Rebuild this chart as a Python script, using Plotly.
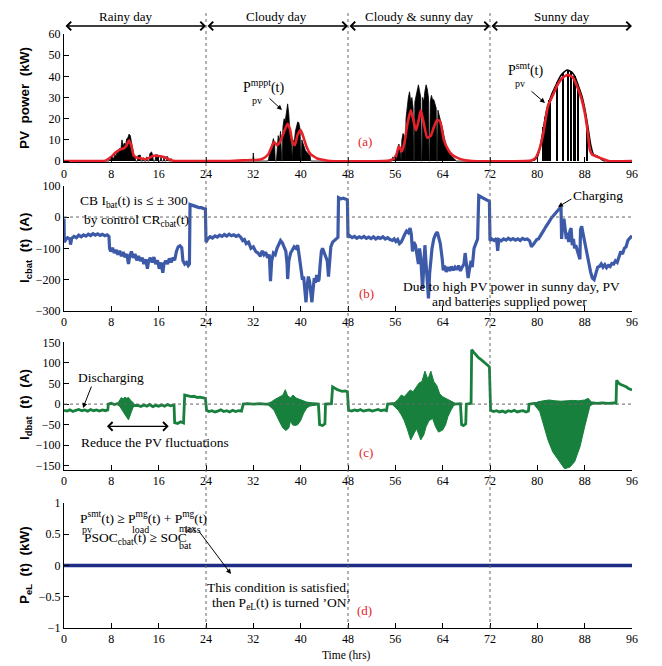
import plotly.graph_objects as go

# ---------------- data ----------------
HOUR_TICKS = list(range(0, 97, 8))
DAY_LABELS = ["Rainy day", "Cloudy day", "Cloudy &amp; sunny day", "Sunny day"]
DAY_BOUNDS = [0, 24, 48, 72, 96]

# (a) smoothed PV power (kW)
PV_SMT = [(0, 0), (6, 0), (7, 0.2), (8, 2), (8.7, 4), (9.5, 5.5), (10.1, 6), (10.6, 7.5), (11, 9.8),
          (11.4, 7), (11.8, 2.5), (12.4, 1.5), (12.9, 1.3), (13.7, 0.8), (14.4, 1.5), (15.1, 2.5),
          (15.8, 2.4), (16.3, 2.3), (17, 1.8), (17.4, 1.2), (18, 0.5), (18.8, 0), (20, 0), (28, 0),
          (31, 0.4), (32, 0.5), (33.2, 0.7), (34, 1.8), (34.6, 3.5), (35.5, 9), (36, 7.5), (36.5, 9),
          (37.2, 14), (37.8, 17.6), (38.2, 15), (38.6, 9), (39, 7.5), (39.5, 12.5), (40, 14.6), (40.5, 11),
          (41, 6.7), (41.6, 3.5), (42.8, 1.2), (43.9, 0.5), (45, 0), (54, 0),
          (55, 0.3), (56, 1.5), (56.6, 7), (57.1, 4.5), (57.6, 9.5), (58, 17), (58.6, 24), (59, 20),
          (59.5, 14.5), (60, 20), (60.3, 24), (60.8, 18), (61.4, 11), (62, 12), (62.5, 16), (63.1, 19.5),
          (63.6, 18.5), (64.2, 10), (65, 5), (65.6, 3), (66.5, 1.5), (67.6, 0.5), (69, 0), (78, 0),
          (79, 0.3), (79.7, 1.5), (80.4, 6), (81, 13), (81.8, 26), (82.6, 31), (83.5, 36.5), (84.3, 39.5),
          (85.2, 40.7), (86, 39.5), (86.9, 34), (87.5, 29), (88, 23), (88.5, 14), (88.9, 5), (89.3, 3),
          (89.7, 2.5), (90.6, 1.5), (91.3, 0.7), (92, 0), (96, 0)]

# (a) MPPT PV power, rainy / cloudy / cloudy & sunny days (kW)
PV_MPPT = [(0, 0), (7.6, 0), (7.8, 1), (8.0, 0.5), (8.2, 2), (8.4, 1), (8.6, 3), (8.8, 2.5), (9.0, 4.5),
           (9.2, 3.5), (9.4, 6), (9.6, 5), (9.8, 10), (10.0, 7), (10.2, 8.5), (10.4, 7.5), (10.6, 10.5),
           (10.8, 11), (11.0, 12.7), (11.2, 12), (11.4, 9), (11.6, 6), (11.8, 2.8), (12.0, 2.5), (12.1, 0),
           (12.4, 0), (12.5, 2.6), (12.9, 2.8), (13.0, 0), (13.3, 0), (13.35, 1.5), (13.5, 1.2), (13.55, 0),
           (13.9, 0), (14.0, 2), (14.1, 0), (14.4, 0), (14.5, 3.5), (14.8, 4.3), (15.0, 2.6), (15.1, 0),
           (15.4, 0), (15.5, 3), (15.9, 2.8), (16.0, 0), (16.3, 0), (16.4, 2.5), (16.5, 0), (16.8, 0),
           (16.9, 2), (17.0, 0), (17.3, 0), (17.4, 2.3), (17.6, 1.5), (17.7, 0), (18.0, 0), (18.1, 1.2),
           (18.3, 0),
           (31.9, 0), (32.0, 3.8), (32.1, 0), (34.5, 0), (34.6, 2), (34.8, 4), (35.0, 6), (35.2, 9),
           (35.4, 10.6), (35.6, 8), (35.7, 0), (35.9, 0), (36.0, 6), (36.2, 12), (36.4, 9), (36.6, 14),
           (36.8, 0), (36.9, 0), (37.0, 16), (37.2, 20), (37.4, 19), (37.6, 24), (37.8, 27), (38.0, 22),
           (38.2, 12), (38.4, 9), (38.5, 0), (38.6, 0), (38.7, 10), (38.9, 8), (39.1, 14), (39.3, 17),
           (39.5, 18.5), (39.7, 18), (39.9, 15), (40.0, 0), (40.1, 0), (40.2, 10), (40.4, 8), (40.6, 6),
           (40.8, 5), (41.0, 4.3), (41.2, 3.5), (41.4, 3), (41.6, 2.5), (41.7, 0),
           (55.4, 0), (55.6, 2), (55.8, 1), (56.0, 3), (56.2, 2), (56.4, 6), (56.6, 8), (56.8, 5), (56.9, 0),
           (57.0, 0), (57.1, 10), (57.3, 13), (57.5, 12), (57.6, 0), (57.7, 0), (57.8, 20), (58.0, 26),
           (58.2, 30), (58.4, 32.7), (58.6, 28), (58.8, 30), (59.0, 25), (59.1, 0), (59.2, 0), (59.3, 28),
           (59.5, 31), (59.7, 33), (59.9, 36), (60.1, 33), (60.3, 30), (60.4, 0), (60.5, 0), (60.6, 30),
           (60.8, 28), (61.0, 33), (61.2, 36), (61.4, 34), (61.6, 30), (61.7, 0), (61.8, 0), (61.9, 28),
           (62.1, 31), (62.3, 29), (62.5, 29), (62.7, 27), (62.9, 25), (63.0, 0), (63.1, 0), (63.2, 24),
           (63.4, 22), (63.6, 20), (63.8, 17), (64.0, 15), (64.2, 12), (64.4, 9), (64.6, 7), (64.8, 6),
           (65.0, 5), (65.3, 3), (65.6, 2), (66.0, 1), (66.3, 0), (78, 0)]

# (a) MPPT PV power, sunny day outline and its drop-outs (kW)
PV_MPPT_SUNNY = [(78.5, 0), (79.5, 0.5), (80.0, 2), (80.5, 7), (81.0, 15), (81.5, 23), (82.0, 28),
                 (82.5, 32), (83.0, 35), (83.5, 38), (84.0, 40.5), (84.5, 42), (85.0, 43), (85.5, 42.5),
                 (86.0, 41.5), (86.5, 39), (87.0, 35), (87.5, 31), (88.0, 25), (88.5, 17), (89.0, 8),
                 (89.5, 3), (90.0, 2.5), (90.5, 1.5), (91.0, 0.5), (91.5, 0)]
PV_MPPT_SUNNY_DROPS = [(81.1, 16), (81.4, 21), (81.7, 25), (82.1, 29), (83.4, 37.5), (84.4, 41.5),
                       (85.2, 43), (85.7, 42.5), (86.3, 40), (86.9, 36), (88.4, 18)]

# (b) charging battery current (A)
I_CBAT = [(0, -5), (0.05, -80), (0.3, -72), (0.6, -66), (1.0, -70), (1.1, -88), (1.3, -68), (1.7, -62),
          (2.1, -66), (2.5, -58), (2.9, -63), (3.3, -57), (3.7, -61), (4.1, -55), (4.5, -59), (4.9, -53),
          (5.3, -58), (5.7, -54), (6.1, -59), (6.5, -55), (6.9, -60), (7.3, -57), (7.6, -62), (7.7, -100),
          (7.9, -110), (8.2, -98), (8.5, -115), (8.8, -105), (9.1, -120), (9.4, -108), (9.7, -125),
          (10.0, -112), (10.3, -128), (10.6, -118), (10.9, -150), (11.1, -125), (11.4, -110), (11.7, -130),
          (12.0, -118), (12.3, -138), (12.6, -125), (12.9, -140), (13.2, -130), (13.5, -150), (13.8, -135),
          (14.1, -165), (14.3, -140), (14.6, -130), (14.9, -145), (15.2, -128), (15.5, -150), (15.8, -138),
          (16.1, -165), (16.4, -145), (16.7, -178), (16.9, -150), (17.2, -140), (17.5, -150), (17.8, -132),
          (18.1, -145), (18.4, -130), (18.7, -138), (19.0, -110), (19.3, -95), (19.6, -92), (19.9, -98),
          (20.1, -140), (20.4, -150), (20.7, -145), (21.0, -155), (21.2, -150), (21.3, 40), (21.6, 38),
          (22.0, 35), (22.4, 33), (22.8, 30), (23.2, 30), (23.6, 27), (23.9, 25), (24.0, -80), (24.3, -70),
          (24.7, -63), (25.1, -67), (25.5, -60), (25.9, -64), (26.3, -58), (26.7, -62), (27.1, -56),
          (27.5, -61), (27.9, -55), (28.3, -60), (28.7, -57), (29.1, -62), (29.5, -58), (29.9, -65),
          (30.2, -75), (30.5, -72), (30.8, -85), (31.2, -80), (31.6, -100), (32.0, -95), (32.4, -110),
          (32.8, -115), (33.2, -125), (33.5, -108), (33.8, -120), (34.1, -112), (34.4, -130), (34.7, -120),
          (34.9, -205), (35.1, -140), (35.4, -115), (35.7, -120), (36.0, -100), (36.3, -90), (36.6, -75),
          (36.9, -82), (37.2, -95), (37.5, -110), (37.7, -150), (37.8, -198), (38.0, -140), (38.3, -115),
          (38.6, -105), (38.9, -95), (39.2, -100), (39.5, -90), (39.8, -130), (40.0, -165), (40.3, -200),
          (40.5, -190), (40.7, -230), (40.9, -272), (41.1, -220), (41.3, -190), (41.5, -205), (41.7, -240),
          (41.9, -272), (42.1, -230), (42.3, -195), (42.5, -210), (42.7, -185), (42.9, -205), (43.1, -200),
          (43.3, -150), (43.5, -110), (43.7, -100), (43.9, -110), (44.2, -125), (44.5, -140), (44.7, -190),
          (44.9, -140), (45.1, -95), (45.4, -80), (45.7, -75), (46.0, -68), (46.3, -65), (46.4, 62),
          (46.8, 58), (47.2, 60), (47.6, 56), (47.9, 55), (48.0, -65), (48.3, -60), (48.7, -66), (49.1, -62),
          (49.5, -68), (49.9, -63), (50.3, -67), (50.7, -62), (51.1, -68), (51.5, -64), (51.9, -69),
          (52.3, -63), (52.7, -70), (53.1, -65), (53.5, -68), (53.9, -63), (54.3, -70), (54.7, -66),
          (55.1, -72), (55.5, -75), (55.8, -70), (56.1, -78), (56.4, -72), (56.7, -85), (57.0, -80),
          (57.3, -65), (57.6, -55), (57.9, -45), (58.2, -50), (58.5, -35), (58.7, -55), (58.9, -110),
          (59.1, -80), (59.4, -90), (59.7, -120), (59.9, -150), (60.1, -100), (60.3, -130), (60.6, -230),
          (60.8, -160), (61.0, -90), (61.2, -150), (61.4, -200), (61.6, -260), (61.8, -180), (62.0, -130),
          (62.2, -100), (62.5, -70), (62.8, -55), (63.1, -48), (63.3, -60), (63.6, -85), (63.9, -130),
          (64.1, -170), (64.3, -155), (64.6, -175), (64.9, -160), (65.2, -172), (65.5, -158), (65.8, -170),
          (66.1, -160), (66.4, -168), (66.7, -155), (67.0, -172), (67.3, -160), (67.6, -150), (67.8, -115),
          (68.0, -150), (68.3, -195), (68.5, -170), (68.8, -140), (69.0, -160), (69.3, -100), (69.6, -85),
          (69.9, -70), (70.1, 68), (70.4, 65), (70.8, 62), (71.2, 58), (71.6, 55), (71.9, 50), (72.0, -75),
          (72.3, -70), (72.7, -75), (73.1, -68), (73.3, -108), (73.5, -72), (73.9, -76), (74.3, -70),
          (74.7, -74), (75.1, -68), (75.5, -73), (75.9, -69), (76.3, -74), (76.7, -70), (77.1, -75),
          (77.5, -68), (77.9, -72), (78.3, -70), (78.7, -76), (79.0, -95), (79.3, -88), (79.6, -80),
          (79.9, -72), (80.2, -70), (80.5, -62), (80.8, -50), (81.1, -42), (81.4, -32), (81.7, -25),
          (82.0, -15), (82.3, -5), (82.6, 2), (82.9, 10), (83.2, 18), (83.5, 25), (83.8, 30), (84.0, 33),
          (84.1, -70), (84.3, -20), (84.5, -5), (84.7, -40), (84.9, -70), (85.1, -50), (85.3, -80),
          (85.5, -45), (85.7, -35), (85.9, -90), (86.1, -70), (86.3, -100), (86.5, -90), (86.8, -110),
          (87.0, -120), (87.2, -135), (87.3, -40), (87.5, -30), (87.7, -50), (87.9, -70), (88.1, -85),
          (88.4, -110), (88.7, -140), (89.0, -175), (89.3, -195), (89.6, -200), (89.9, -180), (90.2, -160),
          (90.5, -158), (90.8, -150), (91.1, -160), (91.4, -152), (91.7, -162), (92.0, -155), (92.3, -158),
          (92.6, -148), (92.9, -150), (93.2, -140), (93.5, -145), (93.8, -125), (94.1, -110), (94.4, -118),
          (94.7, -100), (95.0, -95), (95.3, -75), (95.6, -68), (96.0, -60)]

# (c) discharging battery current (A)
I_DBAT = [(0, -15), (0.5, -17), (1, -14), (1.5, -18), (2, -15), (2.5, -13), (3, -16), (3.5, -14), (4, -17),
          (4.5, -13), (5, -16), (5.5, -14), (6, -17), (6.5, -14), (7, -16), (7.4, -14),
          (7.5, 0), (8, 2), (8.5, -1), (9, 1), (9.5, -2), (10, 0), (10.5, -3), (11, -2), (11.5, -4),
          (12, -4), (12.5, -3), (13, -6), (13.5, -2), (14, -5), (14.5, -1), (15, -6), (15.5, -3), (16, -5),
          (16.5, -2), (17, -5), (17.5, -1), (18, -4), (18.6, -2),
          (18.7, -45), (19.2, -47), (19.7, -43), (20.2, -46),
          (20.4, 22), (21, 20), (21.5, 18), (22, 19), (22.5, 16), (23, 17), (23.5, 15), (23.9, 14),
          (24.1, -15), (24.5, -18), (25, -16), (25.5, -19), (26, -17), (26.5, -14), (27, -18), (27.5, -16),
          (28, -19), (28.5, -15), (29, -18), (29.5, -16), (30, -17),
          (30.3, 0), (31, 1), (32, 0), (33, 1), (34, 0), (43, 0),
          (43.2, -50), (43.7, -52), (44.1, -48),
          (44.2, 0), (45.2, 1),
          (45.4, 42), (45.8, 38), (46.2, 35), (46.6, 33), (47, 31), (47.5, 32), (47.9, 30),
          (48.1, -15), (48.6, -17), (49.1, -14), (49.6, -16), (50.1, -13), (50.6, -17), (51.1, -15),
          (51.6, -14), (52.1, -17), (52.6, -15), (53.1, -13), (53.6, -16), (54.1, -14), (54.5, -16),
          (54.7, 0), (55.5, 1), (56, 0), (66, 0), (67, 1),
          (67.2, -50), (67.5, -52), (67.9, -48),
          (68, 0), (68.8, 2),
          (68.9, 132), (69.3, 125), (69.7, 118), (70.1, 112), (70.5, 108), (70.9, 102), (71.3, 98),
          (71.7, 93), (71.9, 90),
          (72.1, -15), (72.6, -18), (73.1, -16), (73.6, -19), (74.1, -17), (74.6, -20), (75.1, -16),
          (75.6, -18), (76.1, -15), (76.6, -19), (77.1, -17), (77.6, -16), (78.1, -19), (78.5, -17),
          (78.6, 0), (79.5, 2), (89.5, 3), (90, 2), (91, 3), (92, 2), (93, 3), (93.3, 2),
          (93.4, 58), (93.8, 50), (94.2, 47), (94.6, 45), (95, 42), (95.4, 38), (95.8, 36), (96, 34)]

# (c) envelopes of the fast current fluctuations (A)
DBAT_UP_1 = [(9, 0), (9.4, 10), (9.7, 16), (10.0, 12), (10.3, 17), (10.6, 14), (10.9, 16), (11.2, 10),
             (11.5, 6), (11.8, 2)]
DBAT_LO_1 = [(9, 0), (9.4, -5), (9.7, -12), (10.0, -18), (10.3, -25), (10.6, -32), (10.9, -38),
             (11.2, -30), (11.5, -15), (11.8, -3)]
DBAT_UP_2 = [(34.5, 2), (35, 5), (35.5, 10), (36, 14), (36.5, 18), (37, 22), (37.4, 35), (37.8, 20),
             (38.3, 15), (38.7, 22), (39.2, 15), (39.7, 12), (40.2, 8), (41, 5), (42, 3), (43, 2)]
DBAT_LO_2 = [(34.5, -2), (35, -8), (35.5, -15), (36, -30), (36.5, -45), (37, -58), (37.5, -64), (38, -58),
             (38.3, -40), (38.6, -50), (39, -52), (39.5, -50), (40, -40), (40.5, -22), (41, -10),
             (41.5, -5), (42, -3), (43, -1)]
DBAT_UP_3 = [(55.5, 1), (56, 5), (56.5, 12), (57, 22), (57.5, 18), (58, 26), (58.5, 34), (59, 30),
             (59.5, 42), (60, 51), (60.5, 55), (61, 80), (61.5, 60), (62, 80), (62.5, 55), (63, 45),
             (63.5, 25), (64, 18), (64.5, 14), (65, 10), (65.5, 6), (66, 3)]
DBAT_LO_3 = [(55.5, -1), (56, -8), (56.5, -15), (57, -26), (57.5, -40), (58, -60), (58.6, -87),
             (59.2, -70), (59.6, -60), (60.3, -87), (60.8, -75), (61.2, -55), (61.7, -40), (62.3, -35),
             (62.8, -55), (63.3, -68), (64, -63), (64.5, -50), (64.9, -30), (65.4, -15), (65.8, -5), (66, -2)]
DBAT_UP_4 = [(79.5, 1), (80, 5), (81, 8), (82, 10), (83, 8), (84, 7), (85, 8), (86, 9), (87, 8),
             (88, 10), (88.6, 14), (89, 8), (89.3, 2)]
DBAT_LO_4 = [(79.5, -2), (80.4, -18), (81, -47), (81.8, -87), (82.6, -116), (83.8, -140), (84.6, -157),
             (85.5, -153), (86.3, -140), (87.2, -104), (88, -55), (88.9, -4), (89.3, -1)]
DBAT_GAPS = [(84.4, -150), (85.2, -152), (85.9, -145)]

# (d) dump load power (kW)
P_EL = [(0, 0), (96, 0)]

# ---------------- styling ----------------
SERIF = "Liberation Serif"
SANS = "Liberation Sans"
RED = "#e62129"
BLUE = "#3c5aa8"
GREEN = "#16803c"
NAVY = "#1f2c85"

# page body has an 8 px margin: figure is 654x658 placed at (8, 8)
OFF = 8
L, R, T, B, W, H = 56, 30, 26, 38, 654, 658
PH = H - T - B


def X(p):
    return [q[0] for q in p]


def Y(p):
    return [q[1] for q in p]


def paper(xp, yp):
    return (xp - OFF - L) / (W - L - R), (H - B - (yp - OFF)) / PH


def dom(top_px, bot_px):
    return [paper(0, bot_px)[1], paper(0, top_px)[1]]


fig = go.Figure()

# (a)
fig.add_trace(go.Scatter(x=X(PV_MPPT), y=Y(PV_MPPT), mode="lines", fill="tozeroy", fillcolor="black",
                         line=dict(color="black", width=0.8), xaxis="x", yaxis="y"))
fig.add_trace(go.Bar(x=X(PV_MPPT_SUNNY_DROPS), y=Y(PV_MPPT_SUNNY_DROPS), width=0.3, marker_color="black",
                     marker_line_width=0, xaxis="x", yaxis="y"))
fig.add_trace(go.Scatter(x=X(PV_MPPT_SUNNY), y=Y(PV_MPPT_SUNNY), mode="lines",
                         line=dict(color="black", width=1.6, shape="spline", smoothing=0.6), xaxis="x", yaxis="y"))
fig.add_trace(go.Scatter(x=X(PV_SMT), y=Y(PV_SMT), mode="lines",
                         line=dict(color=RED, width=2.6, shape="spline", smoothing=0.5), xaxis="x", yaxis="y"))

# (b)
fig.add_trace(go.Scatter(x=X(I_CBAT), y=Y(I_CBAT), mode="lines", line=dict(color=BLUE, width=3.2),
                         xaxis="x2", yaxis="y2"))

# (c)
for up, lo in [(DBAT_UP_1, DBAT_LO_1), (DBAT_UP_2, DBAT_LO_2), (DBAT_UP_3, DBAT_LO_3), (DBAT_UP_4, DBAT_LO_4)]:
    fig.add_trace(go.Scatter(x=X(up) + X(lo)[::-1], y=Y(up) + Y(lo)[::-1], mode="lines", fill="toself",
                             fillcolor=GREEN, line=dict(color=GREEN, width=1), xaxis="x3", yaxis="y3"))
fig.add_trace(go.Bar(x=X(DBAT_GAPS), y=Y(DBAT_GAPS), width=0.12, marker_color="white", marker_line_width=0,
                     xaxis="x3", yaxis="y3"))
fig.add_trace(go.Scatter(x=X(I_DBAT), y=Y(I_DBAT), mode="lines", line=dict(color=GREEN, width=2.8),
                         xaxis="x3", yaxis="y3"))

# (d)
fig.add_trace(go.Scatter(x=X(P_EL), y=Y(P_EL), mode="lines", line=dict(color=NAVY, width=3.5),
                         xaxis="x4", yaxis="y4"))

tickfont = dict(family=SERIF, size=12, color="black")


def xax(anchor):
    return dict(domain=[0, 1], range=[0, 96], anchor=anchor, tickvals=HOUR_TICKS, ticks="inside", ticklen=5,
                tickcolor="black", showline=True, linecolor="black", linewidth=1, showgrid=False,
                zeroline=False, tickfont=tickfont, fixedrange=True)


def yax(domain, rng, tickvals, anchor):
    return dict(domain=domain, range=rng, anchor=anchor, tickvals=tickvals, ticks="inside", ticklen=5,
                tickcolor="black", showline=True, linecolor="black", linewidth=1, showgrid=False,
                zeroline=False, tickfont=tickfont, fixedrange=True)


fig.update_layout(
    width=W, height=H, margin=dict(l=L, r=R, t=T, b=B), showlegend=False,
    paper_bgcolor="white", plot_bgcolor="white", bargap=0,
    xaxis=xax("y"), yaxis=yax(dom(34, 162.3), [-0.6, 60], list(range(0, 61, 10)), "x"),
    xaxis2=xax("y2"), yaxis2=yax(dom(185.7, 311), [-300, 100], list(range(-300, 101, 100)), "x2"),
    xaxis3=xax("y3"), yaxis3=yax(dom(341.5, 470), [-160, 152], list(range(-150, 151, 50)), "x3"),
    xaxis4=xax("y4"), yaxis4=yax(dom(503, 628), [-1, 1], [-1, -0.5, 0, 0.5, 1], "x4"),
)

shapes = []
for b in DAY_BOUNDS[1:-1]:
    shapes.append(dict(type="line", xref="x", yref="paper", x0=b, x1=b, y0=0, y1=paper(0, 10)[1],
                       line=dict(color="#666", width=1, dash="dot")))
for ya in ["y2", "y3"]:
    shapes.append(dict(type="line", xref="paper", yref=ya, x0=0, x1=1, y0=0, y1=0,
                       line=dict(color="#666", width=1, dash="dot")))
fig.update_layout(shapes=shapes)

ann = []


def text(s, xp, yp, size=13, color="black", xanchor="center", family=SERIF, angle=0):
    x, y = paper(xp, yp)
    ann.append(dict(text=s, x=x, y=y, xref="paper", yref="paper", xanchor=xanchor, yanchor="middle",
                    showarrow=False, textangle=angle, font=dict(family=family, size=size, color=color)))


def arrow(hx, hy, tx, ty, head=2, width=1, size=1):
    x, y = paper(hx, hy)
    ann.append(dict(text="", x=x, y=y, xref="paper", yref="paper", ax=tx - hx, ay=ty - hy, showarrow=True,
                    arrowhead=head, arrowsize=size, arrowwidth=width, arrowcolor="black", standoff=0))


# top day labels and arrows
for lab, xp in zip(DAY_LABELS, [126, 276, 419, 562]):
    text(lab, xp, 16, size=13)
for i in range(4):
    ann.append(dict(text="", x=DAY_BOUNDS[i + 1], y=paper(0, 26)[1], xref="x", yref="paper",
                    ax=DAY_BOUNDS[i], axref="x", ay=0, ayref="pixel", showarrow=True, arrowside="end+start",
                    arrowhead=4, arrowsize=1.2, arrowwidth=1.4, arrowcolor="black", standoff=0, startstandoff=0))

# y-axis titles
text("<b>PV  power  (kW)</b>", 25, 98, size=13.5, family=SANS, angle=-90)
text("<b>I<sub>cbat</sub>  (t)  (A)</b>", 25, 248, size=13.5, family=SANS, angle=-90)
text("<b>I<sub>dbat</sub>  (t)  (A)</b>", 25, 405, size=13.5, family=SANS, angle=-90)
text("<b>P<sub>eL</sub>  (t)  (kW)</b>", 25, 565, size=13.5, family=SANS, angle=-90)

# (a)
text("P<sup>mppt</sup>(t)", 241, 86, size=14, xanchor="left")
text("pv", 250, 100, size=10, xanchor="left")
arrow(282, 110, 268, 97)
text("P<sup>smt</sup>(t)", 506, 70, size=14, xanchor="left")
text("pv", 513, 83, size=10, xanchor="left")
arrow(545, 103, 530, 90)
text("(a)", 365, 142, size=13, color=RED)

# (b)
text("CB I<sub>bat</sub>(t) is ≤ ± 300", 78, 201, size=13.5, xanchor="left")
text("by control CR<sub>cbat</sub>(t)", 82, 221, size=13.5, xanchor="left")
text("Charging", 598, 195, size=13.5)
arrow(558, 207, 573, 198)
text("(b)", 366, 293, size=13, color=RED)
text("Due to high PV power in sunny day, PV", 512, 286, size=13.5)
text("and batteries supplied power", 509, 302, size=13.5)

# (c)
text("Discharging", 111, 377, size=13.5)
arrow(83, 408, 92, 385)
ann.append(dict(text="", x=17.7, y=-54, xref="x3", yref="y3", ax=7.0, ay=-54, axref="x3", ayref="y3",
                showarrow=True, arrowside="end+start", arrowhead=4, arrowsize=1.2, arrowwidth=1.4,
                arrowcolor="black", standoff=0, startstandoff=0))
text("Reduce the PV fluctuations", 155, 442, size=13.5)
text("(c)", 366, 452, size=13, color=RED)

# (d)
text("P<sup>smt</sup>(t) ≥ P<sup>mg</sup>(t) + P<sup>mg</sup>(t)", 78, 517, size=13.5, xanchor="left")
text("pv", 80, 529, size=10, xanchor="left")
text("load", 130, 529, size=10, xanchor="left")
text("loss", 183, 529, size=10, xanchor="left")
text("PSOC<sub>cbat</sub>(t) ≥ SOC", 82, 538, size=13.5, xanchor="left")
text("max", 177, 528, size=10, xanchor="left")
text("bat", 177, 545, size=10, xanchor="left")
arrow(231, 574, 198, 530)
text("This condition is satisfied,", 278, 587, size=13.5)
text("then P<sub>eL</sub>(t) is turned ’ON’", 281, 603, size=13.5)
text("(d)", 364, 610, size=13, color=RED)
text("Time (hrs)", 346, 655, size=11.5)

fig.update_layout(annotations=ann)
fig.write_html("out.html")
